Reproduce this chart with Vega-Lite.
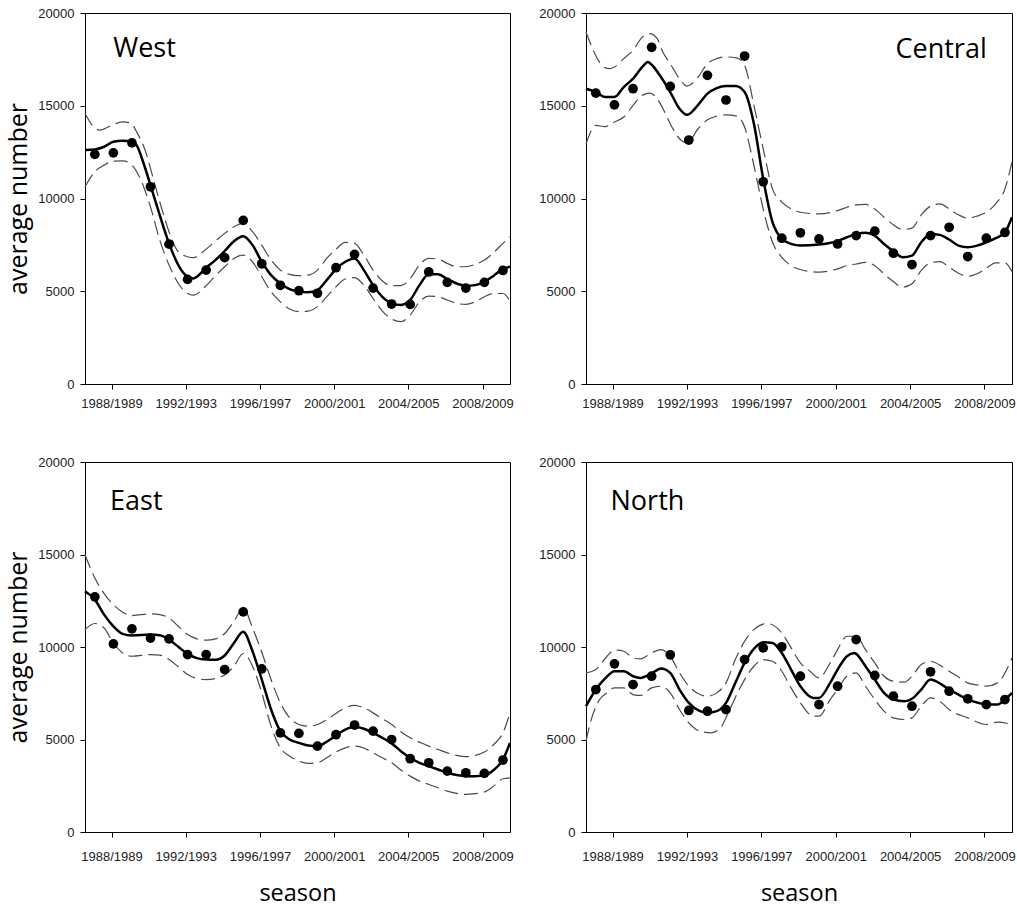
{
  "$schema": "https://vega.github.io/schema/vega-lite/v6.json",
  "padding": {"left": 6, "top": 6, "right": 5, "bottom": 5},
  "background": "white",
  "config": {
    "view": {"stroke": "black", "strokeWidth": 1},
    "axis": {"grid": false, "domainColor": "black", "tickColor": "black", "tickSize": 5, "labelFont": "Liberation Sans", "labelFontSize": 13, "labelColor": "#222", "titleFont": "Open Sans", "titleFontWeight": "normal", "titleColor": "black", "labelFlush": false}
  },
  "datasets": {
    "points": [
      {"region":"West","year":1987,"value":12380},{"region":"West","year":1988,"value":12460},{"region":"West","year":1989,"value":13000},{"region":"West","year":1990,"value":10630},{"region":"West","year":1991,"value":7540},{"region":"West","year":1992,"value":5640},{"region":"West","year":1993,"value":6140},{"region":"West","year":1994,"value":6810},{"region":"West","year":1995,"value":8820},{"region":"West","year":1996,"value":6480},{"region":"West","year":1997,"value":5320},{"region":"West","year":1998,"value":5030},{"region":"West","year":1999,"value":4890},{"region":"West","year":2000,"value":6270},{"region":"West","year":2001,"value":6990},{"region":"West","year":2002,"value":5170},{"region":"West","year":2003,"value":4310},{"region":"West","year":2004,"value":4290},{"region":"West","year":2005,"value":6040},{"region":"West","year":2006,"value":5480},{"region":"West","year":2007,"value":5170},{"region":"West","year":2008,"value":5480},{"region":"West","year":2009,"value":6120},
      {"region":"Central","year":1987,"value":15680},{"region":"Central","year":1988,"value":15050},{"region":"Central","year":1989,"value":15920},{"region":"Central","year":1990,"value":18150},{"region":"Central","year":1991,"value":16040},{"region":"Central","year":1992,"value":13150},{"region":"Central","year":1993,"value":16640},{"region":"Central","year":1994,"value":15310},{"region":"Central","year":1995,"value":17680},{"region":"Central","year":1996,"value":10900},{"region":"Central","year":1997,"value":7860},{"region":"Central","year":1998,"value":8150},{"region":"Central","year":1999,"value":7820},{"region":"Central","year":2000,"value":7550},{"region":"Central","year":2001,"value":8000},{"region":"Central","year":2002,"value":8240},{"region":"Central","year":2003,"value":7050},{"region":"Central","year":2004,"value":6440},{"region":"Central","year":2005,"value":8000},{"region":"Central","year":2006,"value":8450},{"region":"Central","year":2007,"value":6870},{"region":"Central","year":2008,"value":7860},{"region":"Central","year":2009,"value":8170},
      {"region":"East","year":1987,"value":12710},{"region":"East","year":1988,"value":10170},{"region":"East","year":1989,"value":10980},{"region":"East","year":1990,"value":10480},{"region":"East","year":1991,"value":10440},{"region":"East","year":1992,"value":9590},{"region":"East","year":1993,"value":9590},{"region":"East","year":1994,"value":8780},{"region":"East","year":1995,"value":11900},{"region":"East","year":1996,"value":8820},{"region":"East","year":1997,"value":5360},{"region":"East","year":1998,"value":5330},{"region":"East","year":1999,"value":4640},{"region":"East","year":2000,"value":5260},{"region":"East","year":2001,"value":5780},{"region":"East","year":2002,"value":5450},{"region":"East","year":2003,"value":5000},{"region":"East","year":2004,"value":3960},{"region":"East","year":2005,"value":3740},{"region":"East","year":2006,"value":3290},{"region":"East","year":2007,"value":3200},{"region":"East","year":2008,"value":3170},{"region":"East","year":2009,"value":3890},
      {"region":"North","year":1987,"value":7700},{"region":"North","year":1988,"value":9090},{"region":"North","year":1989,"value":7970},{"region":"North","year":1990,"value":8420},{"region":"North","year":1991,"value":9580},{"region":"North","year":1992,"value":6570},{"region":"North","year":1993,"value":6530},{"region":"North","year":1994,"value":6620},{"region":"North","year":1995,"value":9320},{"region":"North","year":1996,"value":9950},{"region":"North","year":1997,"value":10010},{"region":"North","year":1998,"value":8420},{"region":"North","year":1999,"value":6890},{"region":"North","year":2000,"value":7880},{"region":"North","year":2001,"value":10400},{"region":"North","year":2002,"value":8460},{"region":"North","year":2003,"value":7340},{"region":"North","year":2004,"value":6800},{"region":"North","year":2005,"value":8660},{"region":"North","year":2006,"value":7610},{"region":"North","year":2007,"value":7200},{"region":"North","year":2008,"value":6890},{"region":"North","year":2009,"value":7160}
    ],
    "labels": [
      {"region":"West","year":1987.99,"value":17650},
      {"region":"Central","year":2008.02,"value":17560},
      {"region":"East","year":1987.82,"value":17420},
      {"region":"North","year":1987.79,"value":17420}
    ],
    "curves": [
      {"region":"West","curve":"fit","year":1986.47,"value":12610},{"region":"West","curve":"fit","year":1987,"value":12640},{"region":"West","curve":"fit","year":1987.5,"value":12790},{"region":"West","curve":"fit","year":1988,"value":13060},{"region":"West","curve":"fit","year":1988.5,"value":13110},{"region":"West","curve":"fit","year":1989,"value":13090},{"region":"West","curve":"fit","year":1989.3,"value":12790},{"region":"West","curve":"fit","year":1989.6,"value":11980},{"region":"West","curve":"fit","year":1990,"value":10720},{"region":"West","curve":"fit","year":1990.5,"value":9100},{"region":"West","curve":"fit","year":1991,"value":7580},{"region":"West","curve":"fit","year":1991.5,"value":6410},{"region":"West","curve":"fit","year":1992,"value":5780},{"region":"West","curve":"fit","year":1992.3,"value":5690},{"region":"West","curve":"fit","year":1993,"value":6270},{"region":"West","curve":"fit","year":1993.5,"value":6680},{"region":"West","curve":"fit","year":1994,"value":7170},{"region":"West","curve":"fit","year":1994.5,"value":7700},{"region":"West","curve":"fit","year":1995,"value":7970},{"region":"West","curve":"fit","year":1995.5,"value":7490},{"region":"West","curve":"fit","year":1996,"value":6590},{"region":"West","curve":"fit","year":1996.5,"value":5870},{"region":"West","curve":"fit","year":1997,"value":5420},{"region":"West","curve":"fit","year":1997.5,"value":5120},{"region":"West","curve":"fit","year":1998,"value":4980},{"region":"West","curve":"fit","year":1998.5,"value":4940},{"region":"West","curve":"fit","year":1999,"value":5060},{"region":"West","curve":"fit","year":1999.5,"value":5600},{"region":"West","curve":"fit","year":2000,"value":6200},{"region":"West","curve":"fit","year":2000.5,"value":6590},{"region":"West","curve":"fit","year":2001,"value":6770},{"region":"West","curve":"fit","year":2001.5,"value":6140},{"region":"West","curve":"fit","year":2002,"value":5330},{"region":"West","curve":"fit","year":2002.5,"value":4700},{"region":"West","curve":"fit","year":2003,"value":4350},{"region":"West","curve":"fit","year":2003.5,"value":4260},{"region":"West","curve":"fit","year":2004,"value":4530},{"region":"West","curve":"fit","year":2004.5,"value":5330},{"region":"West","curve":"fit","year":2005,"value":5910},{"region":"West","curve":"fit","year":2005.5,"value":5910},{"region":"West","curve":"fit","year":2006,"value":5660},{"region":"West","curve":"fit","year":2006.5,"value":5420},{"region":"West","curve":"fit","year":2007,"value":5300},{"region":"West","curve":"fit","year":2007.5,"value":5330},{"region":"West","curve":"fit","year":2008,"value":5510},{"region":"West","curve":"fit","year":2008.5,"value":5840},{"region":"West","curve":"fit","year":2009,"value":6200},{"region":"West","curve":"fit","year":2009.38,"value":6320},
      {"region":"West","curve":"upper","year":1986.47,"value":14580},{"region":"West","curve":"upper","year":1987,"value":13800},{"region":"West","curve":"upper","year":1987.25,"value":13690},{"region":"West","curve":"upper","year":1987.5,"value":13750},{"region":"West","curve":"upper","year":1988,"value":13990},{"region":"West","curve":"upper","year":1988.5,"value":14130},{"region":"West","curve":"upper","year":1989,"value":14040},{"region":"West","curve":"upper","year":1989.2,"value":13690},{"region":"West","curve":"upper","year":1989.8,"value":12340},{"region":"West","curve":"upper","year":1990,"value":11620},{"region":"West","curve":"upper","year":1990.5,"value":9820},{"region":"West","curve":"upper","year":1991,"value":8210},{"region":"West","curve":"upper","year":1991.5,"value":7130},{"region":"West","curve":"upper","year":1992,"value":6860},{"region":"West","curve":"upper","year":1992.3,"value":6810},{"region":"West","curve":"upper","year":1993,"value":7270},{"region":"West","curve":"upper","year":1993.5,"value":7700},{"region":"West","curve":"upper","year":1994,"value":8120},{"region":"West","curve":"upper","year":1994.5,"value":8480},{"region":"West","curve":"upper","year":1995,"value":8660},{"region":"West","curve":"upper","year":1995.5,"value":8210},{"region":"West","curve":"upper","year":1996,"value":7490},{"region":"West","curve":"upper","year":1996.5,"value":6680},{"region":"West","curve":"upper","year":1997,"value":6140},{"region":"West","curve":"upper","year":1997.5,"value":5910},{"region":"West","curve":"upper","year":1998,"value":5840},{"region":"West","curve":"upper","year":1998.5,"value":5870},{"region":"West","curve":"upper","year":1999,"value":6140},{"region":"West","curve":"upper","year":1999.5,"value":6770},{"region":"West","curve":"upper","year":2000,"value":7270},{"region":"West","curve":"upper","year":2000.5,"value":7630},{"region":"West","curve":"upper","year":2001,"value":7580},{"region":"West","curve":"upper","year":2001.5,"value":6950},{"region":"West","curve":"upper","year":2002,"value":6140},{"region":"West","curve":"upper","year":2002.5,"value":5550},{"region":"West","curve":"upper","year":2003,"value":5300},{"region":"West","curve":"upper","year":2003.5,"value":5300},{"region":"West","curve":"upper","year":2004,"value":5690},{"region":"West","curve":"upper","year":2004.5,"value":6410},{"region":"West","curve":"upper","year":2005,"value":6770},{"region":"West","curve":"upper","year":2005.5,"value":6730},{"region":"West","curve":"upper","year":2006,"value":6500},{"region":"West","curve":"upper","year":2006.5,"value":6320},{"region":"West","curve":"upper","year":2007,"value":6320},{"region":"West","curve":"upper","year":2007.5,"value":6450},{"region":"West","curve":"upper","year":2008,"value":6680},{"region":"West","curve":"upper","year":2008.5,"value":7090},{"region":"West","curve":"upper","year":2009,"value":7580},{"region":"West","curve":"upper","year":2009.38,"value":7940},
      {"region":"West","curve":"lower","year":1986.47,"value":10630},{"region":"West","curve":"lower","year":1987,"value":11440},{"region":"West","curve":"lower","year":1987.5,"value":11800},{"region":"West","curve":"lower","year":1988,"value":12010},{"region":"West","curve":"lower","year":1988.5,"value":12030},{"region":"West","curve":"lower","year":1989,"value":11800},{"region":"West","curve":"lower","year":1989.4,"value":11170},{"region":"West","curve":"lower","year":1990,"value":9550},{"region":"West","curve":"lower","year":1990.5,"value":7760},{"region":"West","curve":"lower","year":1991,"value":6410},{"region":"West","curve":"lower","year":1991.5,"value":5420},{"region":"West","curve":"lower","year":1992,"value":4880},{"region":"West","curve":"lower","year":1992.3,"value":4790},{"region":"West","curve":"lower","year":1993,"value":5300},{"region":"West","curve":"lower","year":1993.5,"value":5840},{"region":"West","curve":"lower","year":1994,"value":6320},{"region":"West","curve":"lower","year":1994.5,"value":6770},{"region":"West","curve":"lower","year":1995,"value":6950},{"region":"West","curve":"lower","year":1995.5,"value":6590},{"region":"West","curve":"lower","year":1996,"value":5780},{"region":"West","curve":"lower","year":1996.5,"value":4970},{"region":"West","curve":"lower","year":1997,"value":4430},{"region":"West","curve":"lower","year":1997.5,"value":4040},{"region":"West","curve":"lower","year":1998,"value":3900},{"region":"West","curve":"lower","year":1998.5,"value":3930},{"region":"West","curve":"lower","year":1999,"value":4170},{"region":"West","curve":"lower","year":1999.5,"value":4700},{"region":"West","curve":"lower","year":2000,"value":5240},{"region":"West","curve":"lower","year":2000.5,"value":5660},{"region":"West","curve":"lower","year":2001,"value":5730},{"region":"West","curve":"lower","year":2001.5,"value":5330},{"region":"West","curve":"lower","year":2002,"value":4610},{"region":"West","curve":"lower","year":2002.5,"value":3930},{"region":"West","curve":"lower","year":2003,"value":3500},{"region":"West","curve":"lower","year":2003.5,"value":3360},{"region":"West","curve":"lower","year":2004,"value":3720},{"region":"West","curve":"lower","year":2004.5,"value":4430},{"region":"West","curve":"lower","year":2005,"value":4740},{"region":"West","curve":"lower","year":2005.5,"value":4700},{"region":"West","curve":"lower","year":2006,"value":4530},{"region":"West","curve":"lower","year":2006.5,"value":4350},{"region":"West","curve":"lower","year":2007,"value":4290},{"region":"West","curve":"lower","year":2007.5,"value":4430},{"region":"West","curve":"lower","year":2008,"value":4700},{"region":"West","curve":"lower","year":2008.5,"value":4880},{"region":"West","curve":"lower","year":2009,"value":4880},{"region":"West","curve":"lower","year":2009.38,"value":4470},
      {"region":"Central","curve":"fit","year":1986.47,"value":15920},{"region":"Central","curve":"fit","year":1987,"value":15740},{"region":"Central","curve":"fit","year":1987.5,"value":15470},{"region":"Central","curve":"fit","year":1988,"value":15470},{"region":"Central","curve":"fit","year":1988.5,"value":16010},{"region":"Central","curve":"fit","year":1989,"value":16460},{"region":"Central","curve":"fit","year":1989.5,"value":17090},{"region":"Central","curve":"fit","year":1989.8,"value":17360},{"region":"Central","curve":"fit","year":1990,"value":17210},{"region":"Central","curve":"fit","year":1990.5,"value":16550},{"region":"Central","curve":"fit","year":1991,"value":15740},{"region":"Central","curve":"fit","year":1991.5,"value":14840},{"region":"Central","curve":"fit","year":1991.9,"value":14510},{"region":"Central","curve":"fit","year":1992.5,"value":15050},{"region":"Central","curve":"fit","year":1993,"value":15650},{"region":"Central","curve":"fit","year":1993.5,"value":15950},{"region":"Central","curve":"fit","year":1994,"value":16060},{"region":"Central","curve":"fit","year":1994.5,"value":16060},{"region":"Central","curve":"fit","year":1995,"value":15740},{"region":"Central","curve":"fit","year":1995.5,"value":14030},{"region":"Central","curve":"fit","year":1996,"value":11060},{"region":"Central","curve":"fit","year":1996.5,"value":8720},{"region":"Central","curve":"fit","year":1997,"value":7820},{"region":"Central","curve":"fit","year":1997.5,"value":7550},{"region":"Central","curve":"fit","year":1998,"value":7460},{"region":"Central","curve":"fit","year":1999,"value":7520},{"region":"Central","curve":"fit","year":1999.5,"value":7590},{"region":"Central","curve":"fit","year":2000,"value":7700},{"region":"Central","curve":"fit","year":2000.5,"value":7910},{"region":"Central","curve":"fit","year":2001,"value":8080},{"region":"Central","curve":"fit","year":2001.5,"value":8150},{"region":"Central","curve":"fit","year":2002,"value":8000},{"region":"Central","curve":"fit","year":2002.5,"value":7550},{"region":"Central","curve":"fit","year":2003,"value":7160},{"region":"Central","curve":"fit","year":2003.5,"value":6830},{"region":"Central","curve":"fit","year":2004,"value":6920},{"region":"Central","curve":"fit","year":2004.5,"value":7640},{"region":"Central","curve":"fit","year":2005,"value":8090},{"region":"Central","curve":"fit","year":2005.5,"value":8040},{"region":"Central","curve":"fit","year":2006,"value":7790},{"region":"Central","curve":"fit","year":2006.5,"value":7460},{"region":"Central","curve":"fit","year":2007,"value":7370},{"region":"Central","curve":"fit","year":2007.5,"value":7460},{"region":"Central","curve":"fit","year":2008,"value":7640},{"region":"Central","curve":"fit","year":2008.5,"value":7860},{"region":"Central","curve":"fit","year":2009,"value":8180},{"region":"Central","curve":"fit","year":2009.38,"value":8990},
      {"region":"Central","curve":"upper","year":1986.47,"value":18980},{"region":"Central","curve":"upper","year":1987,"value":17700},{"region":"Central","curve":"upper","year":1987.4,"value":17100},{"region":"Central","curve":"upper","year":1987.75,"value":17000},{"region":"Central","curve":"upper","year":1988,"value":17090},{"region":"Central","curve":"upper","year":1988.5,"value":17540},{"region":"Central","curve":"upper","year":1989,"value":17990},{"region":"Central","curve":"upper","year":1989.5,"value":18700},{"region":"Central","curve":"upper","year":1989.9,"value":18890},{"region":"Central","curve":"upper","year":1990.3,"value":18620},{"region":"Central","curve":"upper","year":1990.6,"value":17900},{"region":"Central","curve":"upper","year":1991,"value":17270},{"region":"Central","curve":"upper","year":1991.5,"value":16460},{"region":"Central","curve":"upper","year":1991.9,"value":16060},{"region":"Central","curve":"upper","year":1992.5,"value":16550},{"region":"Central","curve":"upper","year":1993,"value":17270},{"region":"Central","curve":"upper","year":1993.5,"value":17540},{"region":"Central","curve":"upper","year":1994,"value":17630},{"region":"Central","curve":"upper","year":1994.6,"value":17570},{"region":"Central","curve":"upper","year":1995,"value":17180},{"region":"Central","curve":"upper","year":1995.5,"value":15020},{"region":"Central","curve":"upper","year":1996,"value":12680},{"region":"Central","curve":"upper","year":1996.5,"value":10520},{"region":"Central","curve":"upper","year":1997,"value":9800},{"region":"Central","curve":"upper","year":1997.5,"value":9440},{"region":"Central","curve":"upper","year":1998,"value":9260},{"region":"Central","curve":"upper","year":1999,"value":9170},{"region":"Central","curve":"upper","year":2000,"value":9350},{"region":"Central","curve":"upper","year":2000.5,"value":9530},{"region":"Central","curve":"upper","year":2001,"value":9660},{"region":"Central","curve":"upper","year":2001.5,"value":9680},{"region":"Central","curve":"upper","year":2002,"value":9440},{"region":"Central","curve":"upper","year":2002.5,"value":8990},{"region":"Central","curve":"upper","year":2003,"value":8580},{"region":"Central","curve":"upper","year":2003.5,"value":8330},{"region":"Central","curve":"upper","year":2004,"value":8400},{"region":"Central","curve":"upper","year":2004.5,"value":9120},{"region":"Central","curve":"upper","year":2005,"value":9590},{"region":"Central","curve":"upper","year":2005.5,"value":9710},{"region":"Central","curve":"upper","year":2006,"value":9440},{"region":"Central","curve":"upper","year":2006.5,"value":9120},{"region":"Central","curve":"upper","year":2007,"value":8940},{"region":"Central","curve":"upper","year":2007.5,"value":9050},{"region":"Central","curve":"upper","year":2008,"value":9260},{"region":"Central","curve":"upper","year":2008.5,"value":9710},{"region":"Central","curve":"upper","year":2009,"value":10520},{"region":"Central","curve":"upper","year":2009.38,"value":11960},
      {"region":"Central","curve":"lower","year":1986.47,"value":12950},{"region":"Central","curve":"lower","year":1987,"value":13940},{"region":"Central","curve":"lower","year":1987.5,"value":13880},{"region":"Central","curve":"lower","year":1988,"value":14120},{"region":"Central","curve":"lower","year":1988.5,"value":14390},{"region":"Central","curve":"lower","year":1989,"value":15020},{"region":"Central","curve":"lower","year":1989.5,"value":15560},{"region":"Central","curve":"lower","year":1989.9,"value":15680},{"region":"Central","curve":"lower","year":1990.3,"value":15380},{"region":"Central","curve":"lower","year":1990.7,"value":14660},{"region":"Central","curve":"lower","year":1991,"value":14030},{"region":"Central","curve":"lower","year":1991.5,"value":13220},{"region":"Central","curve":"lower","year":1991.9,"value":13000},{"region":"Central","curve":"lower","year":1992.5,"value":13760},{"region":"Central","curve":"lower","year":1993,"value":14240},{"region":"Central","curve":"lower","year":1993.5,"value":14440},{"region":"Central","curve":"lower","year":1994,"value":14510},{"region":"Central","curve":"lower","year":1994.6,"value":14440},{"region":"Central","curve":"lower","year":1995,"value":13850},{"region":"Central","curve":"lower","year":1995.5,"value":11780},{"region":"Central","curve":"lower","year":1996,"value":9440},{"region":"Central","curve":"lower","year":1996.5,"value":7640},{"region":"Central","curve":"lower","year":1997,"value":6830},{"region":"Central","curve":"lower","year":1997.5,"value":6380},{"region":"Central","curve":"lower","year":1998,"value":6170},{"region":"Central","curve":"lower","year":1999,"value":6030},{"region":"Central","curve":"lower","year":2000,"value":6210},{"region":"Central","curve":"lower","year":2000.5,"value":6380},{"region":"Central","curve":"lower","year":2001,"value":6470},{"region":"Central","curve":"lower","year":2001.5,"value":6560},{"region":"Central","curve":"lower","year":2002,"value":6380},{"region":"Central","curve":"lower","year":2002.5,"value":5940},{"region":"Central","curve":"lower","year":2003,"value":5520},{"region":"Central","curve":"lower","year":2003.5,"value":5220},{"region":"Central","curve":"lower","year":2004,"value":5400},{"region":"Central","curve":"lower","year":2004.5,"value":6120},{"region":"Central","curve":"lower","year":2005,"value":6530},{"region":"Central","curve":"lower","year":2005.5,"value":6600},{"region":"Central","curve":"lower","year":2006,"value":6300},{"region":"Central","curve":"lower","year":2006.5,"value":5970},{"region":"Central","curve":"lower","year":2007,"value":5810},{"region":"Central","curve":"lower","year":2007.5,"value":5940},{"region":"Central","curve":"lower","year":2008,"value":6240},{"region":"Central","curve":"lower","year":2008.5,"value":6530},{"region":"Central","curve":"lower","year":2009,"value":6530},{"region":"Central","curve":"lower","year":2009.38,"value":6060},
      {"region":"East","curve":"fit","year":1986.47,"value":13010},{"region":"East","curve":"fit","year":1987,"value":12560},{"region":"East","curve":"fit","year":1987.5,"value":11750},{"region":"East","curve":"fit","year":1988,"value":11120},{"region":"East","curve":"fit","year":1988.5,"value":10710},{"region":"East","curve":"fit","year":1989,"value":10620},{"region":"East","curve":"fit","year":1990,"value":10670},{"region":"East","curve":"fit","year":1990.5,"value":10640},{"region":"East","curve":"fit","year":1991,"value":10400},{"region":"East","curve":"fit","year":1991.5,"value":10010},{"region":"East","curve":"fit","year":1992,"value":9630},{"region":"East","curve":"fit","year":1992.5,"value":9400},{"region":"East","curve":"fit","year":1993,"value":9320},{"region":"East","curve":"fit","year":1993.5,"value":9310},{"region":"East","curve":"fit","year":1994,"value":9540},{"region":"East","curve":"fit","year":1994.5,"value":10220},{"region":"East","curve":"fit","year":1995,"value":10820},{"region":"East","curve":"fit","year":1995.5,"value":9770},{"region":"East","curve":"fit","year":1996,"value":8240},{"region":"East","curve":"fit","year":1996.5,"value":6620},{"region":"East","curve":"fit","year":1997,"value":5450},{"region":"East","curve":"fit","year":1997.5,"value":5000},{"region":"East","curve":"fit","year":1998,"value":4820},{"region":"East","curve":"fit","year":1998.5,"value":4680},{"region":"East","curve":"fit","year":1999,"value":4640},{"region":"East","curve":"fit","year":1999.5,"value":4880},{"region":"East","curve":"fit","year":2000,"value":5220},{"region":"East","curve":"fit","year":2000.5,"value":5540},{"region":"East","curve":"fit","year":2001,"value":5690},{"region":"East","curve":"fit","year":2001.5,"value":5580},{"region":"East","curve":"fit","year":2002,"value":5360},{"region":"East","curve":"fit","year":2002.5,"value":5090},{"region":"East","curve":"fit","year":2003,"value":4790},{"region":"East","curve":"fit","year":2003.5,"value":4370},{"region":"East","curve":"fit","year":2004,"value":4010},{"region":"East","curve":"fit","year":2004.5,"value":3740},{"region":"East","curve":"fit","year":2005,"value":3560},{"region":"East","curve":"fit","year":2005.5,"value":3380},{"region":"East","curve":"fit","year":2006,"value":3200},{"region":"East","curve":"fit","year":2006.5,"value":3080},{"region":"East","curve":"fit","year":2007,"value":3020},{"region":"East","curve":"fit","year":2007.5,"value":3020},{"region":"East","curve":"fit","year":2008,"value":3060},{"region":"East","curve":"fit","year":2008.5,"value":3350},{"region":"East","curve":"fit","year":2009,"value":3920},{"region":"East","curve":"fit","year":2009.38,"value":4820},
      {"region":"East","curve":"upper","year":1986.47,"value":14990},{"region":"East","curve":"upper","year":1987,"value":13730},{"region":"East","curve":"upper","year":1987.5,"value":12890},{"region":"East","curve":"upper","year":1988,"value":12290},{"region":"East","curve":"upper","year":1988.5,"value":11880},{"region":"East","curve":"upper","year":1989,"value":11700},{"region":"East","curve":"upper","year":1990,"value":11790},{"region":"East","curve":"upper","year":1990.5,"value":11750},{"region":"East","curve":"upper","year":1991,"value":11570},{"region":"East","curve":"upper","year":1991.5,"value":11120},{"region":"East","curve":"upper","year":1992,"value":10670},{"region":"East","curve":"upper","year":1992.5,"value":10440},{"region":"East","curve":"upper","year":1993,"value":10370},{"region":"East","curve":"upper","year":1993.5,"value":10440},{"region":"East","curve":"upper","year":1994,"value":10730},{"region":"East","curve":"upper","year":1994.5,"value":11390},{"region":"East","curve":"upper","year":1995,"value":12110},{"region":"East","curve":"upper","year":1995.5,"value":11030},{"region":"East","curve":"upper","year":1996,"value":9720},{"region":"East","curve":"upper","year":1996.5,"value":8240},{"region":"East","curve":"upper","year":1997,"value":6980},{"region":"East","curve":"upper","year":1997.5,"value":6170},{"region":"East","curve":"upper","year":1998,"value":5810},{"region":"East","curve":"upper","year":1998.5,"value":5720},{"region":"East","curve":"upper","year":1999,"value":5810},{"region":"East","curve":"upper","year":1999.5,"value":6080},{"region":"East","curve":"upper","year":2000,"value":6410},{"region":"East","curve":"upper","year":2000.5,"value":6710},{"region":"East","curve":"upper","year":2001,"value":6840},{"region":"East","curve":"upper","year":2001.5,"value":6710},{"region":"East","curve":"upper","year":2002,"value":6440},{"region":"East","curve":"upper","year":2002.5,"value":6120},{"region":"East","curve":"upper","year":2003,"value":5810},{"region":"East","curve":"upper","year":2003.5,"value":5420},{"region":"East","curve":"upper","year":2004,"value":5090},{"region":"East","curve":"upper","year":2004.5,"value":4860},{"region":"East","curve":"upper","year":2005,"value":4640},{"region":"East","curve":"upper","year":2005.5,"value":4460},{"region":"East","curve":"upper","year":2006,"value":4280},{"region":"East","curve":"upper","year":2006.5,"value":4140},{"region":"East","curve":"upper","year":2007,"value":4070},{"region":"East","curve":"upper","year":2007.5,"value":4140},{"region":"East","curve":"upper","year":2008,"value":4320},{"region":"East","curve":"upper","year":2008.5,"value":4730},{"region":"East","curve":"upper","year":2009,"value":5360},{"region":"East","curve":"upper","year":2009.38,"value":6440},
      {"region":"East","curve":"lower","year":1986.47,"value":10940},{"region":"East","curve":"lower","year":1987,"value":11270},{"region":"East","curve":"lower","year":1987.5,"value":11030},{"region":"East","curve":"lower","year":1988,"value":10220},{"region":"East","curve":"lower","year":1988.5,"value":9680},{"region":"East","curve":"lower","year":1989,"value":9500},{"region":"East","curve":"lower","year":1990,"value":9590},{"region":"East","curve":"lower","year":1990.5,"value":9560},{"region":"East","curve":"lower","year":1991,"value":9320},{"region":"East","curve":"lower","year":1991.5,"value":8930},{"region":"East","curve":"lower","year":1992,"value":8510},{"region":"East","curve":"lower","year":1992.5,"value":8300},{"region":"East","curve":"lower","year":1993,"value":8240},{"region":"East","curve":"lower","year":1993.5,"value":8300},{"region":"East","curve":"lower","year":1994,"value":8480},{"region":"East","curve":"lower","year":1994.5,"value":8960},{"region":"East","curve":"lower","year":1995,"value":9650},{"region":"East","curve":"lower","year":1995.5,"value":8960},{"region":"East","curve":"lower","year":1996,"value":7520},{"region":"East","curve":"lower","year":1996.5,"value":5720},{"region":"East","curve":"lower","year":1997,"value":4550},{"region":"East","curve":"lower","year":1997.5,"value":4100},{"region":"East","curve":"lower","year":1998,"value":3830},{"region":"East","curve":"lower","year":1998.5,"value":3710},{"region":"East","curve":"lower","year":1999,"value":3740},{"region":"East","curve":"lower","year":1999.5,"value":4010},{"region":"East","curve":"lower","year":2000,"value":4320},{"region":"East","curve":"lower","year":2000.5,"value":4550},{"region":"East","curve":"lower","year":2001,"value":4640},{"region":"East","curve":"lower","year":2001.5,"value":4540},{"region":"East","curve":"lower","year":2002,"value":4280},{"region":"East","curve":"lower","year":2002.5,"value":4010},{"region":"East","curve":"lower","year":2003,"value":3740},{"region":"East","curve":"lower","year":2003.5,"value":3350},{"region":"East","curve":"lower","year":2004,"value":3020},{"region":"East","curve":"lower","year":2004.5,"value":2750},{"region":"East","curve":"lower","year":2005,"value":2570},{"region":"East","curve":"lower","year":2005.5,"value":2390},{"region":"East","curve":"lower","year":2006,"value":2210},{"region":"East","curve":"lower","year":2006.5,"value":2090},{"region":"East","curve":"lower","year":2007,"value":2030},{"region":"East","curve":"lower","year":2007.5,"value":2070},{"region":"East","curve":"lower","year":2008,"value":2160},{"region":"East","curve":"lower","year":2008.5,"value":2480},{"region":"East","curve":"lower","year":2009,"value":2880},{"region":"East","curve":"lower","year":2009.38,"value":2930},
      {"region":"North","curve":"fit","year":1986.47,"value":6800},{"region":"North","curve":"fit","year":1987,"value":7700},{"region":"North","curve":"fit","year":1987.5,"value":8300},{"region":"North","curve":"fit","year":1988,"value":8690},{"region":"North","curve":"fit","year":1988.5,"value":8690},{"region":"North","curve":"fit","year":1989,"value":8420},{"region":"North","curve":"fit","year":1989.4,"value":8330},{"region":"North","curve":"fit","year":1990,"value":8570},{"region":"North","curve":"fit","year":1990.5,"value":8840},{"region":"North","curve":"fit","year":1991,"value":8600},{"region":"North","curve":"fit","year":1991.5,"value":7700},{"region":"North","curve":"fit","year":1992,"value":6980},{"region":"North","curve":"fit","year":1992.6,"value":6530},{"region":"North","curve":"fit","year":1993,"value":6440},{"region":"North","curve":"fit","year":1993.5,"value":6530},{"region":"North","curve":"fit","year":1994,"value":6980},{"region":"North","curve":"fit","year":1994.5,"value":8060},{"region":"North","curve":"fit","year":1995,"value":9140},{"region":"North","curve":"fit","year":1995.5,"value":9900},{"region":"North","curve":"fit","year":1996,"value":10260},{"region":"North","curve":"fit","year":1996.5,"value":10220},{"region":"North","curve":"fit","year":1997,"value":9680},{"region":"North","curve":"fit","year":1997.5,"value":8780},{"region":"North","curve":"fit","year":1998,"value":7880},{"region":"North","curve":"fit","year":1998.7,"value":7250},{"region":"North","curve":"fit","year":1999,"value":7250},{"region":"North","curve":"fit","year":1999.6,"value":8060},{"region":"North","curve":"fit","year":2000,"value":8780},{"region":"North","curve":"fit","year":2000.5,"value":9500},{"region":"North","curve":"fit","year":2000.9,"value":9680},{"region":"North","curve":"fit","year":2001,"value":9630},{"region":"North","curve":"fit","year":2001.5,"value":8960},{"region":"North","curve":"fit","year":2002,"value":8240},{"region":"North","curve":"fit","year":2002.5,"value":7520},{"region":"North","curve":"fit","year":2003,"value":7160},{"region":"North","curve":"fit","year":2003.6,"value":7070},{"region":"North","curve":"fit","year":2004,"value":7200},{"region":"North","curve":"fit","year":2004.5,"value":7700},{"region":"North","curve":"fit","year":2005,"value":8240},{"region":"North","curve":"fit","year":2005.6,"value":7970},{"region":"North","curve":"fit","year":2006,"value":7700},{"region":"North","curve":"fit","year":2006.5,"value":7430},{"region":"North","curve":"fit","year":2007,"value":7160},{"region":"North","curve":"fit","year":2007.5,"value":7000},{"region":"North","curve":"fit","year":2008,"value":6890},{"region":"North","curve":"fit","year":2008.6,"value":6890},{"region":"North","curve":"fit","year":2009,"value":7160},{"region":"North","curve":"fit","year":2009.38,"value":7520},
      {"region":"North","curve":"upper","year":1986.47,"value":8600},{"region":"North","curve":"upper","year":1987,"value":8780},{"region":"North","curve":"upper","year":1987.6,"value":9500},{"region":"North","curve":"upper","year":1988,"value":9830},{"region":"North","curve":"upper","year":1988.5,"value":9770},{"region":"North","curve":"upper","year":1989,"value":9410},{"region":"North","curve":"upper","year":1989.4,"value":9360},{"region":"North","curve":"upper","year":1990,"value":9680},{"region":"North","curve":"upper","year":1990.5,"value":9860},{"region":"North","curve":"upper","year":1991,"value":9500},{"region":"North","curve":"upper","year":1991.5,"value":8600},{"region":"North","curve":"upper","year":1992,"value":7880},{"region":"North","curve":"upper","year":1992.6,"value":7430},{"region":"North","curve":"upper","year":1993,"value":7340},{"region":"North","curve":"upper","year":1993.5,"value":7520},{"region":"North","curve":"upper","year":1994,"value":8060},{"region":"North","curve":"upper","year":1994.5,"value":9320},{"region":"North","curve":"upper","year":1995,"value":10310},{"region":"North","curve":"upper","year":1995.5,"value":10940},{"region":"North","curve":"upper","year":1996.2,"value":11270},{"region":"North","curve":"upper","year":1997,"value":10760},{"region":"North","curve":"upper","year":1997.5,"value":9950},{"region":"North","curve":"upper","year":1998,"value":9140},{"region":"North","curve":"upper","year":1998.5,"value":8700},{"region":"North","curve":"upper","year":1999,"value":8330},{"region":"North","curve":"upper","year":1999.6,"value":9140},{"region":"North","curve":"upper","year":2000,"value":9860},{"region":"North","curve":"upper","year":2000.5,"value":10580},{"region":"North","curve":"upper","year":2001,"value":10580},{"region":"North","curve":"upper","year":2001.5,"value":9860},{"region":"North","curve":"upper","year":2002,"value":9140},{"region":"North","curve":"upper","year":2002.5,"value":8420},{"region":"North","curve":"upper","year":2003,"value":8150},{"region":"North","curve":"upper","year":2003.6,"value":8100},{"region":"North","curve":"upper","year":2004,"value":8420},{"region":"North","curve":"upper","year":2004.5,"value":9050},{"region":"North","curve":"upper","year":2005,"value":9230},{"region":"North","curve":"upper","year":2005.6,"value":8960},{"region":"North","curve":"upper","year":2006,"value":8690},{"region":"North","curve":"upper","year":2006.5,"value":8380},{"region":"North","curve":"upper","year":2007,"value":8060},{"region":"North","curve":"upper","year":2007.5,"value":7950},{"region":"North","curve":"upper","year":2008,"value":7880},{"region":"North","curve":"upper","year":2008.6,"value":8060},{"region":"North","curve":"upper","year":2009.38,"value":9410},
      {"region":"North","curve":"lower","year":1986.47,"value":4910},{"region":"North","curve":"lower","year":1986.7,"value":5900},{"region":"North","curve":"lower","year":1987.2,"value":7160},{"region":"North","curve":"lower","year":1987.6,"value":7520},{"region":"North","curve":"lower","year":1988,"value":7790},{"region":"North","curve":"lower","year":1988.5,"value":7790},{"region":"North","curve":"lower","year":1989,"value":7430},{"region":"North","curve":"lower","year":1989.4,"value":7380},{"region":"North","curve":"lower","year":1990,"value":7790},{"region":"North","curve":"lower","year":1990.5,"value":7880},{"region":"North","curve":"lower","year":1991,"value":7520},{"region":"North","curve":"lower","year":1991.5,"value":6620},{"region":"North","curve":"lower","year":1992,"value":5900},{"region":"North","curve":"lower","year":1992.6,"value":5450},{"region":"North","curve":"lower","year":1993.2,"value":5360},{"region":"North","curve":"lower","year":1993.7,"value":5630},{"region":"North","curve":"lower","year":1994.2,"value":6620},{"region":"North","curve":"lower","year":1994.8,"value":7880},{"region":"North","curve":"lower","year":1995.5,"value":8960},{"region":"North","curve":"lower","year":1996,"value":9320},{"region":"North","curve":"lower","year":1996.5,"value":9230},{"region":"North","curve":"lower","year":1997,"value":8690},{"region":"North","curve":"lower","year":1997.5,"value":7790},{"region":"North","curve":"lower","year":1998,"value":6980},{"region":"North","curve":"lower","year":1998.7,"value":6260},{"region":"North","curve":"lower","year":1999,"value":6260},{"region":"North","curve":"lower","year":1999.6,"value":7160},{"region":"North","curve":"lower","year":2000,"value":7700},{"region":"North","curve":"lower","year":2000.5,"value":8420},{"region":"North","curve":"lower","year":2001,"value":8600},{"region":"North","curve":"lower","year":2001.5,"value":7880},{"region":"North","curve":"lower","year":2002,"value":7160},{"region":"North","curve":"lower","year":2002.5,"value":6530},{"region":"North","curve":"lower","year":2003,"value":6170},{"region":"North","curve":"lower","year":2003.6,"value":6080},{"region":"North","curve":"lower","year":2004,"value":6170},{"region":"North","curve":"lower","year":2004.5,"value":6800},{"region":"North","curve":"lower","year":2005,"value":7250},{"region":"North","curve":"lower","year":2005.6,"value":6980},{"region":"North","curve":"lower","year":2006,"value":6620},{"region":"North","curve":"lower","year":2007,"value":6170},{"region":"North","curve":"lower","year":2008,"value":5810},{"region":"North","curve":"lower","year":2008.6,"value":5940},{"region":"North","curve":"lower","year":2009.38,"value":5810}
    ]
  },
  "vconcat": [
    {
      "hconcat": [
        {
          "width": 425, "height": 371,
          "encoding": {
            "x": {"field": "year", "type": "quantitative", "scale": {"domain": [1986.47, 2009.38], "nice": false, "zero": false}, "axis": {"values": [1987.9, 1991.9, 1995.9, 1999.9, 2003.9, 2007.9], "labelExpr": "floor(datum.value + 0.5) + '/' + (floor(datum.value + 0.5) + 1)", "labelPadding": 8, "title": null}},
            "y": {"field": "value", "type": "quantitative", "scale": {"domain": [0, 20000], "nice": false}, "axis": {"values": [0, 5000, 10000, 15000, 20000], "format": "d", "labelPadding": 6, "title": "average number", "titleFontSize": 25, "titlePadding": 6}}
          },
          "layer": [
            {"data": {"name": "curves"}, "transform": [{"filter": "datum.region === 'West' && datum.curve !== 'fit'"}], "mark": {"type": "line", "interpolate": "monotone", "strokeDash": [14, 6], "strokeWidth": 1.2, "color": "#4a4a4a"}, "encoding": {"detail": {"field": "curve"}}},
            {"data": {"name": "curves"}, "transform": [{"filter": "datum.region === 'West' && datum.curve === 'fit'"}], "mark": {"type": "line", "interpolate": "monotone", "strokeWidth": 2.5, "color": "black"}, "encoding": {}},
            {"data": {"name": "points"}, "transform": [{"filter": "datum.region === 'West'"}], "mark": {"type": "circle", "size": 95, "color": "black", "opacity": 1}},
            {"data": {"name": "labels"}, "transform": [{"filter": "datum.region === 'West'"}], "mark": {"type": "text", "font": "Open Sans", "fontSize": 27, "align": "left", "baseline": "alphabetic", "color": "black"}, "encoding": {"text": {"field": "region"}}}
          ]
        },
        {
          "width": 426, "height": 371,
          "encoding": {
            "x": {"field": "year", "type": "quantitative", "scale": {"domain": [1986.47, 2009.38], "nice": false, "zero": false}, "axis": {"values": [1987.9, 1991.9, 1995.9, 1999.9, 2003.9, 2007.9], "labelExpr": "floor(datum.value + 0.5) + '/' + (floor(datum.value + 0.5) + 1)", "labelPadding": 8, "title": null}},
            "y": {"field": "value", "type": "quantitative", "scale": {"domain": [0, 20000], "nice": false}, "axis": {"values": [0, 5000, 10000, 15000, 20000], "format": "d", "labelPadding": 6, "title": null}}
          },
          "layer": [
            {"data": {"name": "curves"}, "transform": [{"filter": "datum.region === 'Central' && datum.curve !== 'fit'"}], "mark": {"type": "line", "interpolate": "monotone", "strokeDash": [14, 6], "strokeWidth": 1.2, "color": "#4a4a4a"}, "encoding": {"detail": {"field": "curve"}}},
            {"data": {"name": "curves"}, "transform": [{"filter": "datum.region === 'Central' && datum.curve === 'fit'"}], "mark": {"type": "line", "interpolate": "monotone", "strokeWidth": 2.5, "color": "black"}, "encoding": {}},
            {"data": {"name": "points"}, "transform": [{"filter": "datum.region === 'Central'"}], "mark": {"type": "circle", "size": 95, "color": "black", "opacity": 1}},
            {"data": {"name": "labels"}, "transform": [{"filter": "datum.region === 'Central'"}], "mark": {"type": "text", "font": "Open Sans", "fontSize": 27, "align": "right", "baseline": "alphabetic", "color": "black"}, "encoding": {"text": {"field": "region"}}}
          ]
        }
      ],
      "spacing": 22
    },
    {
      "hconcat": [
        {
          "width": 425, "height": 370,
          "encoding": {
            "x": {"field": "year", "type": "quantitative", "scale": {"domain": [1986.47, 2009.38], "nice": false, "zero": false}, "axis": {"values": [1987.9, 1991.9, 1995.9, 1999.9, 2003.9, 2007.9], "labelExpr": "floor(datum.value + 0.5) + '/' + (floor(datum.value + 0.5) + 1)", "labelPadding": 13, "title": "season", "titleFontSize": 23.5, "titlePadding": 18}},
            "y": {"field": "value", "type": "quantitative", "scale": {"domain": [0, 20000], "nice": false}, "axis": {"values": [0, 5000, 10000, 15000, 20000], "format": "d", "labelPadding": 6, "title": "average number", "titleFontSize": 25, "titlePadding": 6}}
          },
          "layer": [
            {"data": {"name": "curves"}, "transform": [{"filter": "datum.region === 'East' && datum.curve !== 'fit'"}], "mark": {"type": "line", "interpolate": "monotone", "strokeDash": [14, 6], "strokeWidth": 1.2, "color": "#4a4a4a"}, "encoding": {"detail": {"field": "curve"}}},
            {"data": {"name": "curves"}, "transform": [{"filter": "datum.region === 'East' && datum.curve === 'fit'"}], "mark": {"type": "line", "interpolate": "monotone", "strokeWidth": 2.5, "color": "black"}, "encoding": {}},
            {"data": {"name": "points"}, "transform": [{"filter": "datum.region === 'East'"}], "mark": {"type": "circle", "size": 95, "color": "black", "opacity": 1}},
            {"data": {"name": "labels"}, "transform": [{"filter": "datum.region === 'East'"}], "mark": {"type": "text", "font": "Open Sans", "fontSize": 27, "align": "left", "baseline": "alphabetic", "color": "black"}, "encoding": {"text": {"field": "region"}}}
          ]
        },
        {
          "width": 426, "height": 370,
          "encoding": {
            "x": {"field": "year", "type": "quantitative", "scale": {"domain": [1986.47, 2009.38], "nice": false, "zero": false}, "axis": {"values": [1987.9, 1991.9, 1995.9, 1999.9, 2003.9, 2007.9], "labelExpr": "floor(datum.value + 0.5) + '/' + (floor(datum.value + 0.5) + 1)", "labelPadding": 13, "title": "season", "titleFontSize": 23.5, "titlePadding": 18}},
            "y": {"field": "value", "type": "quantitative", "scale": {"domain": [0, 20000], "nice": false}, "axis": {"values": [0, 5000, 10000, 15000, 20000], "format": "d", "labelPadding": 6, "title": null}}
          },
          "layer": [
            {"data": {"name": "curves"}, "transform": [{"filter": "datum.region === 'North' && datum.curve !== 'fit'"}], "mark": {"type": "line", "interpolate": "monotone", "strokeDash": [14, 6], "strokeWidth": 1.2, "color": "#4a4a4a"}, "encoding": {"detail": {"field": "curve"}}},
            {"data": {"name": "curves"}, "transform": [{"filter": "datum.region === 'North' && datum.curve === 'fit'"}], "mark": {"type": "line", "interpolate": "monotone", "strokeWidth": 2.5, "color": "black"}, "encoding": {}},
            {"data": {"name": "points"}, "transform": [{"filter": "datum.region === 'North'"}], "mark": {"type": "circle", "size": 95, "color": "black", "opacity": 1}},
            {"data": {"name": "labels"}, "transform": [{"filter": "datum.region === 'North'"}], "mark": {"type": "text", "font": "Open Sans", "fontSize": 27, "align": "left", "baseline": "alphabetic", "color": "black"}, "encoding": {"text": {"field": "region"}}}
          ]
        }
      ],
      "spacing": 22
    }
  ],
  "spacing": 44
}
